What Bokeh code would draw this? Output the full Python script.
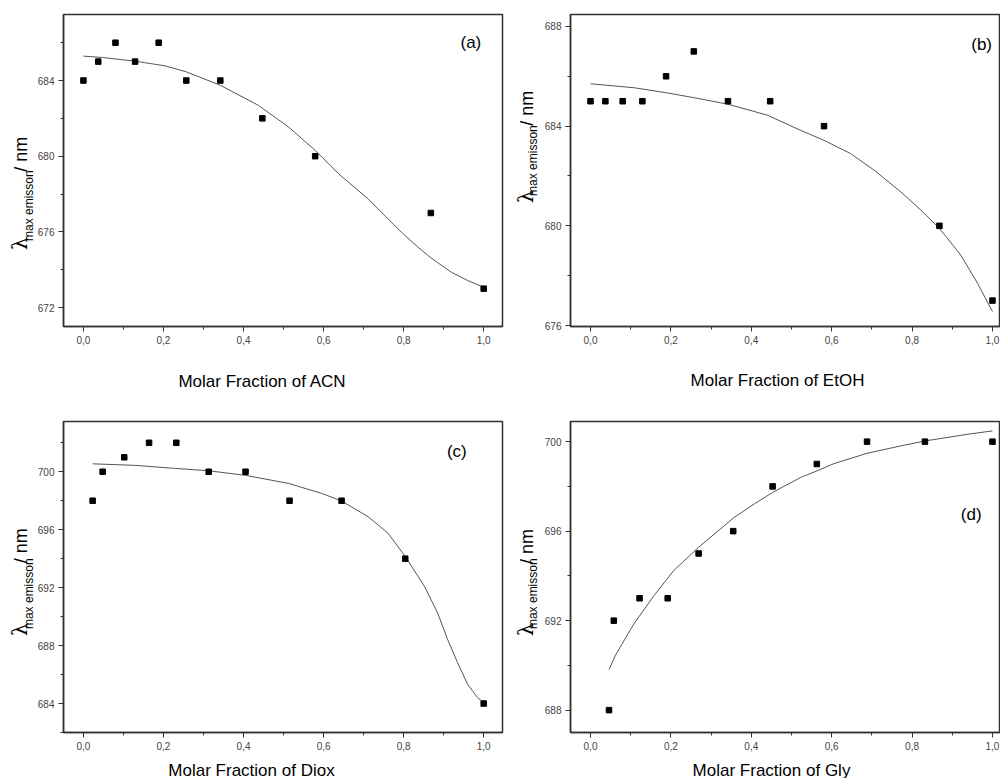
import math
from bokeh.plotting import figure
from bokeh.layouts import column, row
from bokeh.models import Label, FixedTicker, CustomJSTickFormatter, Range1d
from bokeh.core.properties import value
from bokeh.embed import file_html
from bokeh.resources import INLINE

# ---------------- data ----------------
acn_x = [0.0, 0.037, 0.080, 0.129, 0.188, 0.257, 0.342, 0.447, 0.579, 0.868, 1.0]
acn_y = [684, 685, 686, 685, 686, 684, 684, 682, 680, 677, 673]
acn_fit_x = [0.0, 0.047, 0.130, 0.203, 0.257, 0.342, 0.437, 0.512, 0.579, 0.637,
             0.711, 0.794, 0.836, 0.868, 0.919, 0.960, 1.0]
acn_fit_y = [685.29, 685.22, 685.02, 684.78, 684.46, 683.75, 682.69, 681.55, 680.31,
             679.08, 677.75, 675.99, 675.19, 674.63, 673.87, 673.43, 673.08]

etoh_x = [0.0, 0.037, 0.080, 0.129, 0.188, 0.257, 0.342, 0.447, 0.581, 0.868, 1.0]
etoh_y = [685, 685, 685, 685, 686, 687, 685, 685, 684, 680, 677]
etoh_fit_x = [0.0, 0.109, 0.192, 0.258, 0.342, 0.440, 0.523, 0.581, 0.647, 0.706,
              0.772, 0.822, 0.868, 0.921, 0.963, 1.0]
etoh_fit_y = [685.70, 685.54, 685.33, 685.14, 684.88, 684.44, 683.83, 683.43, 682.90,
              682.23, 681.36, 680.63, 679.90, 678.83, 677.69, 676.56]

diox_x = [0.023, 0.048, 0.102, 0.164, 0.232, 0.313, 0.405, 0.515, 0.645, 0.804, 1.0]
diox_y = [698, 700, 701, 702, 702, 700, 700, 698, 698, 694, 684]
diox_fit_x = [0.023, 0.130, 0.230, 0.313, 0.405, 0.512, 0.595, 0.645, 0.711, 0.761,
              0.804, 0.852, 0.885, 0.910, 0.935, 0.960, 0.985, 1.0]
diox_fit_y = [700.55, 700.44, 700.23, 700.07, 699.75, 699.20, 698.51, 697.98, 696.90,
              695.76, 694.15, 692.09, 690.25, 688.42, 686.81, 685.32, 684.40, 684.06]

gly_x = [0.046, 0.058, 0.122, 0.192, 0.269, 0.355, 0.453, 0.563, 0.688, 0.832, 1.0]
gly_y = [688, 692, 693, 693, 695, 696, 698, 699, 700, 700, 700]
gly_fit_x = [0.046, 0.062, 0.108, 0.158, 0.207, 0.269, 0.357, 0.407, 0.453, 0.523,
             0.563, 0.606, 0.688, 0.772, 0.832, 0.938, 1.0]
gly_fit_y = [689.81, 690.45, 691.86, 693.12, 694.24, 695.28, 696.61, 697.21, 697.73,
             698.40, 698.69, 699.02, 699.48, 699.81, 700.03, 700.33, 700.48]

x_ticks = [0.0, 0.2, 0.4, 0.6, 0.8, 1.0]
x_minor = [0.1, 0.3, 0.5, 0.7, 0.9]

x_labels = ["Molar Fraction of ACN", "Molar Fraction of EtOH",
            "Molar Fraction of Diox", "Molar Fraction of Gly"]
panel_tags = ["(a)", "(b)", "(c)", "(d)"]

FONT = "Liberation Sans"
DARK = "#333333"


def panel(w, h, bl, br, bt, bb, xr, yr, yticks, yminor, xs, ys, fx, fy, tag, tagxy):
    p = figure(width=w, height=h, x_range=Range1d(*xr), y_range=Range1d(*yr),
               output_backend="svg", toolbar_location=None, title=None,
               min_border_left=bl, min_border_right=br,
               min_border_top=bt, min_border_bottom=bb)
    p.xgrid.visible = False
    p.ygrid.visible = False
    p.outline_line_color = DARK
    p.outline_line_width = 1.5
    p.xaxis.ticker = FixedTicker(ticks=x_ticks, minor_ticks=x_minor)
    p.xaxis.formatter = CustomJSTickFormatter(code="return tick.toFixed(1).replace('.', ',')")
    p.yaxis.ticker = FixedTicker(ticks=yticks, minor_ticks=yminor)
    for ax in (p.xaxis[0], p.yaxis[0]):
        ax.axis_line_color = DARK
        ax.axis_line_width = 1.5
        ax.major_tick_line_color = DARK
        ax.minor_tick_line_color = DARK
        ax.major_tick_out = 5
        ax.major_tick_in = 0
        ax.minor_tick_out = 3
        ax.minor_tick_in = 0
        ax.major_label_text_font = FONT
        ax.major_label_text_font_size = "10px"
        ax.major_label_text_color = "#444444"
        ax.major_label_standoff = 4

    p.line(fx, fy, line_color="#555555", line_width=1)
    p.scatter(xs, ys, marker="square", size=5.5, color="black")
    p.add_layout(Label(x=tagxy[0], y=tagxy[1], text=tag, text_align="center",
                       text_baseline="middle", text_font=FONT, text_font_size="17px",
                       text_color="black"))
    return p


def text_fig(w, h, x0, y0, items):
    """A bare figure holding only texts; its ranges are the page pixels it covers
    (y negated so that the range keeps its normal direction)."""
    f = figure(width=w, height=h, output_backend="svg", toolbar_location=None, title=None,
               x_axis_type=None, y_axis_type=None,
               x_range=Range1d(x0, x0 + w), y_range=Range1d(-(y0 + h), -y0),
               min_border_left=0, min_border_right=0, min_border_top=0, min_border_bottom=0)
    f.outline_line_color = None
    for (X, Y, text, font, size, angle) in items:
        f.text(x=[X], y=[-Y], text=[text], angle=angle, text_align="center",
               text_baseline="middle", text_font=value(font), text_font_size=size,
               text_color="black")
    return f


R = math.pi / 2


def ylab_items(lam, sub, nm):
    return [(lam[0], lam[1], "λ", "DejaVu Serif", "20px", R),
            (sub[0], sub[1], "max emisson", FONT, "12px", R),
            (nm[0], nm[1], "/ nm", FONT, "18px", R)]


# ---------- top row: page y 0..346 ----------
ya = text_fig(34, 346, 0, 0, ylab_items((19, 254), (28, 212), (20, 155)))
pa = panel(471, 346, 27, 3, 14, 20, (-0.0498, 1.047), (671.0, 687.49),
           [672, 676, 680, 684], [674, 678, 682, 686],
           acn_x, acn_y, acn_fit_x, acn_fit_y, panel_tags[0], (0.968, 686.0))
yb = text_fig(34, 346, 505, 0, ylab_items((525, 202), (532, 162), (526, 104)))
pb = panel(461, 346, 31, 0, 14, 20, (-0.0498, 1.02), (675.96, 688.48),
           [676, 680, 684, 688], [678, 682, 686],
           etoh_x, etoh_y, etoh_fit_x, etoh_fit_y, panel_tags[1], (0.973, 687.27))

# x labels of top row: page y 346..390
xt = text_fig(1000, 44, 0, 346, [(262, 380.5, x_labels[0], FONT, "17px", 0),
                                 (777, 380, x_labels[1], FONT, "17px", 0)])

# ---------- bottom row: page y 390..753 ----------
yc = text_fig(34, 363, 0, 390, ylab_items((19, 633), (28, 591), (20, 535)))
pc = panel(471, 363, 27, 3, 31, 20, (-0.0498, 1.047), (682.0, 703.47),
           [684, 688, 692, 696, 700], [682, 686, 690, 694, 698, 702],
           diox_x, diox_y, diox_fit_x, diox_fit_y, panel_tags[2], (0.933, 701.38))
yd = text_fig(34, 363, 505, 390, ylab_items((525, 633), (532, 591), (526, 536)))
pd_ = panel(461, 363, 31, 0, 31, 21, (-0.0498, 1.02), (687.0, 700.9),
            [688, 692, 696, 700], [690, 694, 698],
            gly_x, gly_y, gly_fit_x, gly_fit_y, panel_tags[3], (0.947, 696.76))

# x labels of bottom row: page y 753..778
xb = text_fig(1000, 25, 0, 753, [(251, 769.5, x_labels[2], FONT, "17px", 0),
                                 (771, 769.5, x_labels[3], FONT, "17px", 0)])

layout = column(row(ya, pa, yb, pb, spacing=0), xt,
                row(yc, pc, yd, pd_, spacing=0), xb, spacing=0)

with open("out.html", "w") as f:
    f.write(file_html(layout, INLINE))
